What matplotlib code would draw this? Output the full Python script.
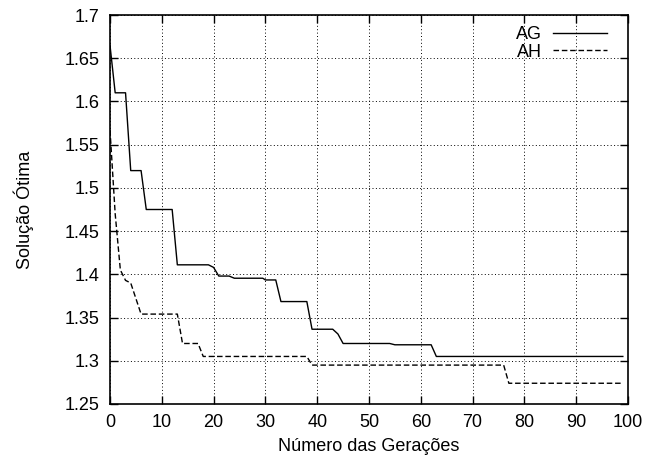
import matplotlib
matplotlib.use("Agg")
import matplotlib.pyplot as plt

plt.rcParams['font.family'] = ['Liberation Sans', 'DejaVu Sans']

ag_x = [0, 1, 3, 4, 6, 7, 12, 13, 19, 20, 21, 23, 24, 29.5, 30, 32, 33, 38, 39, 43, 44, 45, 54, 55, 62, 63, 99]
ag_y = [1.665, 1.61, 1.61, 1.52, 1.52, 1.475, 1.475, 1.411, 1.411, 1.408, 1.398, 1.398, 1.3955, 1.3955,
        1.3935, 1.3935, 1.3685, 1.3685, 1.3365, 1.3365, 1.331, 1.32, 1.32, 1.3185, 1.3185, 1.305, 1.305]

ah_x = [0, 1, 2, 3, 4, 6, 13, 14, 17, 18, 38, 39, 76, 77, 99]
ah_y = [1.567, 1.47, 1.405, 1.393, 1.39, 1.354, 1.354, 1.32, 1.32, 1.305, 1.305, 1.295, 1.295, 1.274, 1.274]

x_ticks = [0, 10, 20, 30, 40, 50, 60, 70, 80, 90, 100]
y_ticks = [1.25, 1.3, 1.35, 1.4, 1.45, 1.5, 1.55, 1.6, 1.65, 1.7]
y_ticklabels = ['1.25', '1.3', '1.35', '1.4', '1.45', '1.5', '1.55', '1.6', '1.65', '1.7']

fs = 13

fig = plt.figure(figsize=(6.64, 4.63), dpi=100)
ax = fig.add_axes([110/664, 1 - 404/463, (628 - 110)/664, (404 - 15)/463])

ax.plot(ag_x, ag_y, color='black', lw=1.0, label='AG')
ax.plot(ah_x, ah_y, color='black', lw=1.0, dashes=(4, 2), label='AH')

ax.set_xlim(0, 100)
ax.set_ylim(1.25, 1.7)
ax.set_xticks(x_ticks)
ax.set_yticks(y_ticks)
ax.set_yticklabels(y_ticklabels)
ax.grid(True, color='black', lw=0.7, linestyle=(0, (1, 2.5)))
ax.tick_params(direction='in', length=6, width=1.0, top=True, right=True,
               labelsize=fs, colors='black')
ax.tick_params(axis='x', pad=7)
ax.tick_params(axis='y', pad=7.5)
for s in ax.spines.values():
    s.set_linewidth(1.2)

ax.set_xlabel('Número das Gerações', fontsize=fs, labelpad=5)
ax.set_ylabel('Solução Ótima', fontsize=fs, labelpad=22)

leg = ax.legend(loc='upper right', frameon=False, markerfirst=False, fontsize=fs,
                handlelength=3.0, handletextpad=0.6, labelspacing=0.05,
                borderaxespad=0.0, borderpad=0.0, bbox_to_anchor=(0.9595, 0.972))

fig.savefig('out.png', dpi=100)
